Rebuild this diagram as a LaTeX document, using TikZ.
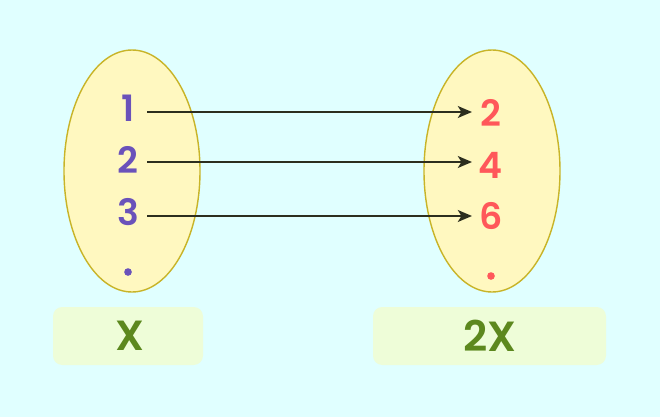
\documentclass[tikz,border=0pt]{standalone}
\usepackage{fontspec}
\setmainfont{Poppins}[BoldFont={Poppins SemiBold}]
\usetikzlibrary{arrows.meta}
\definecolor{bgcyan}{RGB}{224,255,255}
\definecolor{setfill}{RGB}{255,248,192}
\definecolor{setline}{RGB}{200,180,40}
\definecolor{dompurple}{RGB}{106,82,186}
\definecolor{codred}{RGB}{255,88,90}
\definecolor{labgreen}{RGB}{92,136,30}
\definecolor{labfill}{RGB}{238,253,216}
\definecolor{arrowdark}{RGB}{44,46,30}
\tikzset{
  dom/.style={text=dompurple, font=\bfseries\fontsize{31}{31}\selectfont},
  cod/.style={text=codred, font=\bfseries\fontsize{31}{31}\selectfont},
  labbox/.style={fill=labfill, rounded corners=8pt},
  labtext/.style={text=labgreen, font=\bfseries\fontsize{36}{36}\selectfont},
  maparrow/.style={draw=arrowdark, line width=2.1pt, -{Stealth[length=12pt, width=10pt, inset=3pt]}}
}
\begin{document}
\begin{tikzpicture}[x=0.03cm, y=-0.03cm]
        \fill[bgcyan] (0,0) rectangle (660,417);
        \useasboundingbox (0,0) rectangle (660,417);
        \fill[setfill, draw=setline, line width=1.2pt] (132,171) ellipse [x radius=68, y radius=121];
        \fill[setfill, draw=setline, line width=1.2pt] (492,171) ellipse [x radius=68, y radius=121];
        \fill[labbox] (53,307) rectangle (203,365);
        \fill[labbox] (373,307) rectangle (606,365);
        \node[labtext] (X) at (130,336) {X};
        \node[labtext] (Y) at (490,336) {2X};
        \node[dom] (a1) at (128,108) {1};
        \node[dom] (a2) at (128,160) {2};
        \node[dom] (a3) at (128,212) {3};
        \node[circle, fill=dompurple, inner sep=2.3pt] (adot) at (128,272) {};
        \node[cod] (b1) at (491,113) {2};
        \node[cod] (b2) at (491,165) {4};
        \node[cod] (b3) at (491,216) {6};
        \node[circle, fill=codred, inner sep=2.3pt] (bdot) at (491,276) {};
        \coordinate (s1) at (147,112); \coordinate (t1) at (472,112);
        \coordinate (s2) at (147,162); \coordinate (t2) at (472,162);
        \coordinate (s3) at (147,216); \coordinate (t3) at (472,216);
        \draw[maparrow] (s1)--(t1);
        \draw[maparrow] (s2)--(t2);
        \draw[maparrow] (s3)--(t3);
    \end{tikzpicture}
\end{document}
